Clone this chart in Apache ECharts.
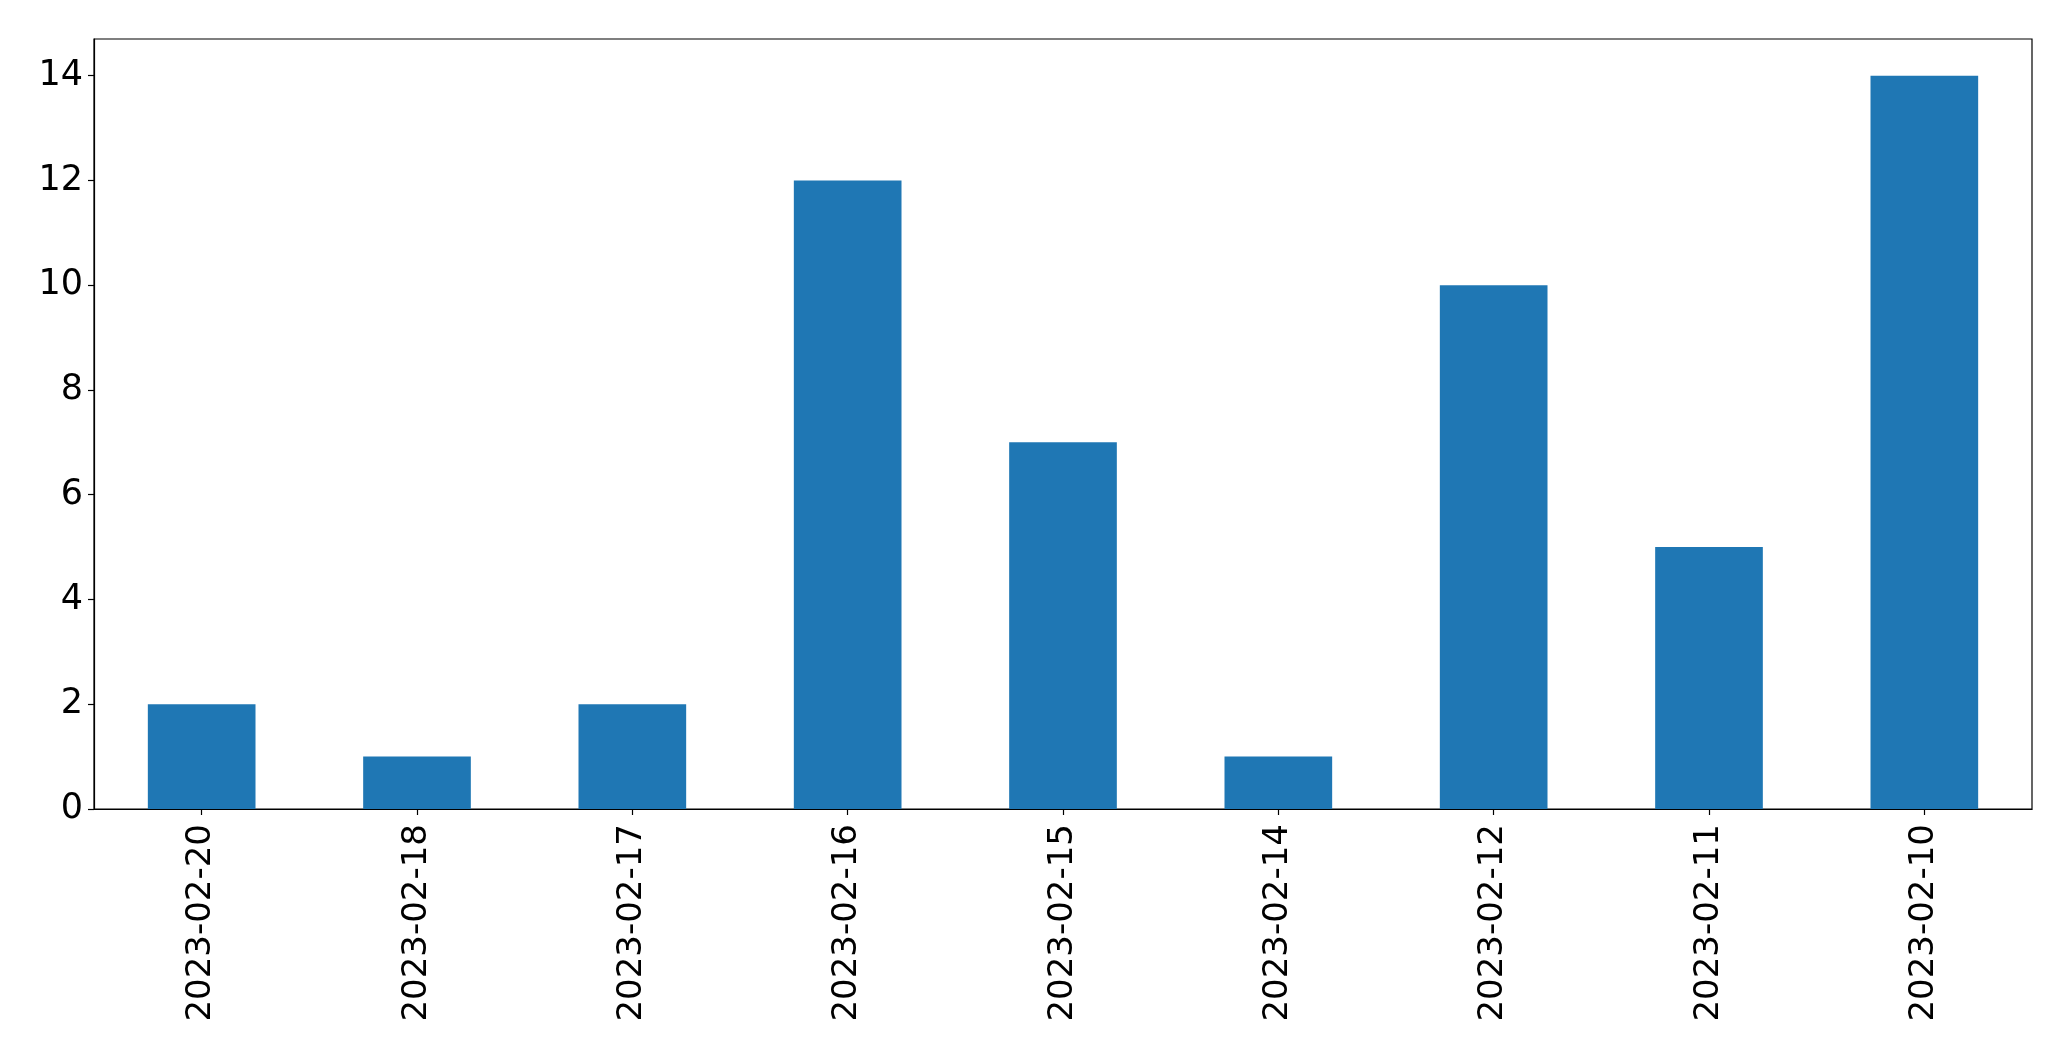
<!DOCTYPE html>
<html>
<head>
<meta charset="utf-8">
<script src="https://cdn.jsdelivr.net/npm/echarts@6/dist/echarts.min.js"></script>
<style>
html,body{margin:0;padding:0;background:#fff;}
#chart{width:2071px;height:1061px;}
</style>
</head>
<body>
<div id="chart"></div>
<script>
const categories = ['2023-02-20','2023-02-18','2023-02-17','2023-02-16','2023-02-15','2023-02-14','2023-02-12','2023-02-11','2023-02-10'];
const values = [2, 1, 2, 12, 7, 1, 10, 5, 14];
const yTicks = [0, 2, 4, 6, 8, 10, 12, 14];

const chart = echarts.init(document.getElementById('chart'), null, {renderer: 'canvas'});
const font = 'DejaVu Sans';
chart.setOption({
  animation: false,
  backgroundColor: '#ffffff',
  grid: {
    left: 94, top: 39, width: 1938, height: 770,
    show: true, borderColor: '#000', borderWidth: 1.2, backgroundColor: 'transparent'
  },
  xAxis: {
    type: 'category',
    data: categories,
    boundaryGap: true,
    axisLine: {show: true, lineStyle: {color: '#000', width: 1.2}},
    axisTick: {show: true, alignWithLabel: true, length: 6, lineStyle: {color: '#000', width: 1.2}},
    axisLabel: {rotate: 90, margin: 15, color: '#000', fontFamily: font, fontSize: 34, interval: 0},
    splitLine: {show: false}
  },
  yAxis: {
    type: 'value',
    min: 0, max: 14.7,
    axisLine: {show: true, lineStyle: {color: '#000', width: 1.2}},
    axisTick: {show: true, length: 6, lineStyle: {color: '#000', width: 1.2}, customValues: yTicks},
    axisLabel: {margin: 11, color: '#000', fontFamily: font, fontSize: 35, customValues: yTicks},
    splitLine: {show: false}
  },
  series: [{
    type: 'bar',
    data: values,
    barWidth: '50%',
    itemStyle: {color: '#1f77b4'}
  }]
});
</script>
</body>
</html>
